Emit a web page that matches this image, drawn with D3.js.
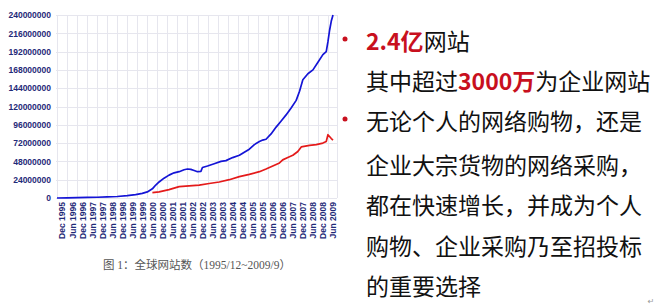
<!DOCTYPE html>
<html>
<head>
<meta charset="utf-8">
<script src="https://cdn.jsdelivr.net/npm/d3@7"></script>
<style>
  body { margin: 0; background: #fff; }
  svg { display: block; }
</style>
</head>
<body>
<div id="chart"></div>
<script>
// total web sites (millions)
var totalDates = ["1995-12","1996-06","1996-12","1997-06","1997-12","1998-06","1998-12","1999-06","1999-11","2000-03","2000-06","2000-09","2000-11","2001-01","2001-04","2001-07","2001-10","2002-01","2002-04","2002-06","2002-08","2002-10","2002-12","2003-02","2003-03","2003-06","2003-10","2004-02","2004-05","2004-09","2005-01","2005-04","2005-07","2005-10","2006-01","2006-03","2006-05","2006-08","2006-11","2007-02","2007-05","2007-08","2007-11","2008-01","2008-03","2008-06","2008-09","2008-12","2009-03","2009-05","2009-06","2009-07","2009-08","2009-09"];
var totalValues = [0.02,0.2,0.4,0.8,1.0,1.5,2.0,3.0,4.5,6,8,12,17,21,26,30,33,34.5,37,38,37.5,36,34.5,35,40,42,45,48,49,53,56,60,64,70,74,76,77,84,93,101,109,118,128,140,155,163,168,178,188,192,205,220,232,240];

// active sites (millions)
var activeDates = ["2000-09","2001-01","2001-07","2002-01","2002-07","2003-01","2003-07","2004-01","2004-07","2005-01","2005-07","2006-01","2006-05","2006-09","2007-01","2007-03","2007-06","2007-09","2007-12","2008-02","2008-07","2008-11","2009-03","2009-05","2009-06","2009-08","2009-09"];
var activeValues = [7,8,11,15,16,17,19,21,24,28,31,34.5,38,42,46,50,53,56,61,67,69,70,72,74,83,78,76];

var xTickLabels = ["Dec 1995","Jun 1996","Dec 1996","Jun 1997","Dec 1997","Jun 1998","Dec 1998","Jun 1999","Dec 1999","Jun 2000","Dec 2000","Jun 2001","Dec 2001","Jun 2002","Dec 2002","Jun 2003","Dec 2003","Jun 2004","Dec 2004","Jun 2005","Dec 2005","Jun 2006","Dec 2006","Jun 2007","Dec 2007","Jun 2008","Dec 2008","Jun 2009"];
var yTickValues = [0,24000000,48000000,72000000,96000000,120000000,144000000,168000000,192000000,216000000,240000000];

var caption = "图 1：全球网站数（1995/12~2009/9）";

// right-hand bullet text, red parts flagged
var textLines = [
  [{t: "2.4亿", red: true}, {t: "网站"}],
  [{t: "其中超过"}, {t: "3000万", red: true}, {t: "为企业网站"}],
  [{t: "无论个人的网络购物，还是"}],
  [{t: "企业大宗货物的网络采购，"}],
  [{t: "都在快速增长，并成为个人"}],
  [{t: "购物、企业采购乃至招投标"}],
  [{t: "的重要选择"}]
];
var bulletLines = [0, 2];

var svgWidth = 655;
var svgHeight = 308;

var plot = {left: 56, right: 337, top: 15, bottom: 198};

var svg = d3.select("#chart")
  .append("svg")
  .attr("width", svgWidth)
  .attr("height", svgHeight);

svg.append("rect")
  .attr("width", svgWidth)
  .attr("height", svgHeight)
  .attr("fill", "#fff");

var parseMonth = d3.timeParse("%Y-%m");
var parseTick = d3.timeParse("%b %Y");

var xScale = d3.scaleTime()
  .domain([parseMonth("1995-12"), parseMonth("2009-09")])
  .range([57, 333]);

var yScale = d3.scaleLinear()
  .domain([0, 240000000])
  .range([plot.bottom, plot.top]);

var tickDates = xTickLabels.map(d => parseTick(d));

// grid
var grid = svg.append("g").attr("stroke", "#e6e6ee").attr("stroke-width", 1);

grid.selectAll("line.h")
  .data(yTickValues)
  .enter()
  .append("line")
  .attr("x1", plot.left)
  .attr("x2", plot.right)
  .attr("y1", d => Math.round(yScale(d)) + 0.5)
  .attr("y2", d => Math.round(yScale(d)) + 0.5);

grid.selectAll("line.v")
  .data(tickDates)
  .enter()
  .append("line")
  .attr("x1", d => Math.round(xScale(d)) + 0.5)
  .attr("x2", d => Math.round(xScale(d)) + 0.5)
  .attr("y1", plot.top)
  .attr("y2", plot.bottom);

grid.append("line")
  .attr("x1", plot.right + 0.5)
  .attr("x2", plot.right + 0.5)
  .attr("y1", plot.top)
  .attr("y2", plot.bottom);

// y axis labels
var leftAxis = d3.axisLeft(yScale)
  .tickValues(yTickValues)
  .tickFormat(d3.format("d"))
  .tickSize(0)
  .tickPadding(4);

var yAxisG = svg.append("g")
  .attr("transform", `translate(${plot.left - 1}, 0)`)
  .call(leftAxis);
yAxisG.select(".domain").remove();
yAxisG.selectAll("text")
  .attr("fill", "#1f2a78")
  .attr("font-family", "Liberation Sans, Arial, sans-serif")
  .attr("font-size", "8.5px")
  .attr("font-weight", "bold");

// x axis labels, rotated
var bottomAxis = d3.axisBottom(xScale)
  .tickValues(tickDates)
  .tickFormat((d, i) => xTickLabels[i])
  .tickSize(0);

var xAxisG = svg.append("g")
  .attr("transform", `translate(0, ${plot.bottom})`)
  .call(bottomAxis);
xAxisG.select(".domain").remove();
xAxisG.selectAll("text")
  .attr("transform", "rotate(-90)")
  .attr("text-anchor", "end")
  .attr("x", -4)
  .attr("y", 5)
  .attr("dy", "0.35em")
  .attr("fill", "#1f2a78")
  .attr("font-family", "Liberation Sans, Arial, sans-serif")
  .attr("font-size", "8.5px")
  .attr("font-weight", "bold");

// lines
var line = d3.line()
  .x(d => xScale(parseMonth(d[0])))
  .y(d => yScale(d[1] * 1e6));

svg.append("path")
  .datum(d3.zip(activeDates, activeValues))
  .attr("fill", "none")
  .attr("stroke", "#e41a1a")
  .attr("stroke-width", 1.7)
  .attr("stroke-linejoin", "round")
  .attr("d", line);

svg.append("path")
  .datum(d3.zip(totalDates, totalValues))
  .attr("fill", "none")
  .attr("stroke", "#1414d6")
  .attr("stroke-width", 1.7)
  .attr("stroke-linejoin", "round")
  .attr("d", line);

// caption
svg.append("text")
  .attr("x", 197)
  .attr("y", 269)
  .attr("text-anchor", "middle")
  .attr("fill", "#555")
  .attr("font-family", "Liberation Serif, Noto Sans CJK SC, serif")
  .attr("font-size", "11.5px")
  .text(caption);

// right-hand text block
var baselines = [50, 90, 130, 174, 214, 255, 295];
var textBlock = svg.append("g")
  .attr("font-family", "Noto Sans CJK SC, sans-serif")
  .attr("font-size", "23px");

textLines.forEach(function(segs, i) {
  var t = textBlock.append("text")
    .attr("x", 366)
    .attr("y", baselines[i]);
  segs.forEach(function(s) {
    t.append("tspan")
      .attr("fill", s.red ? "#c8101e" : "#111")
      .attr("font-weight", s.red ? "bold" : "normal")
      .text(s.t);
  });
});

svg.selectAll("circle.bullet")
  .data(bulletLines)
  .enter()
  .append("circle")
  .attr("cx", 345)
  .attr("cy", d => baselines[d] - 11)
  .attr("r", 2.5)
  .attr("fill", "#c8101e");

svg.append("text")
  .attr("x", 651)
  .attr("y", 304)
  .attr("text-anchor", "middle")
  .attr("fill", "#999")
  .attr("font-family", "DejaVu Sans, sans-serif")
  .attr("font-size", "8px")
  .text("↵");
</script>
</body>
</html>
